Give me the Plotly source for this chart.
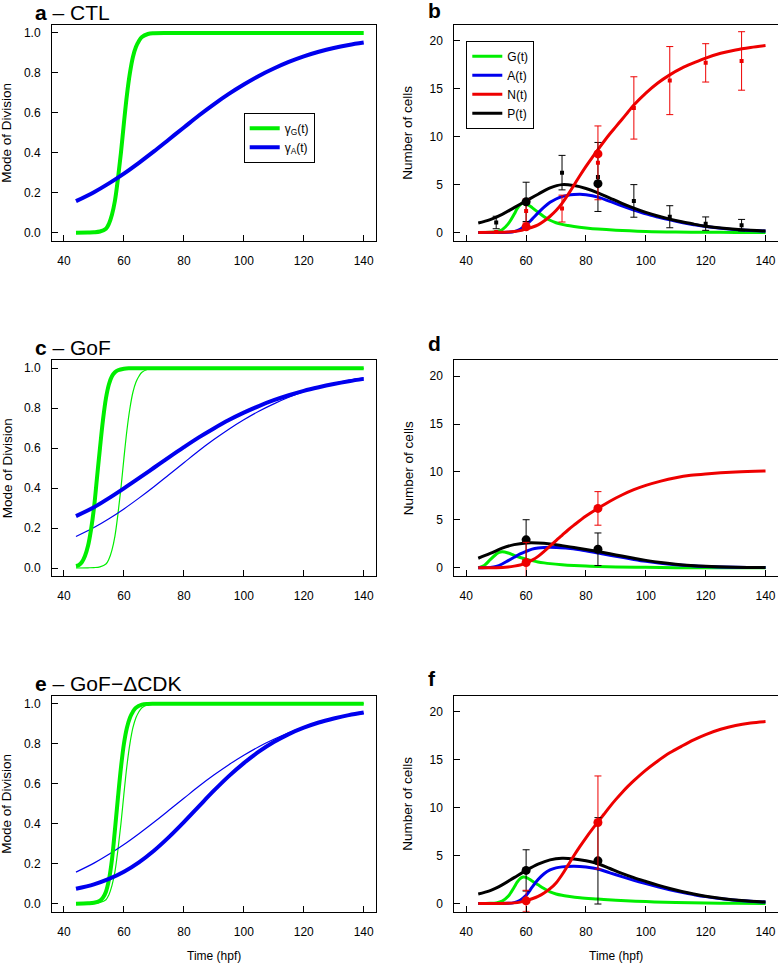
import plotly.graph_objects as go

# ---------------- DATA ----------------
# Mode of division, control (CTL)
t_gG_ctl = [44, 48, 50, 52, 54, 55, 56, 57, 58, 59, 60, 61, 62, 63, 64, 65, 66, 68, 70, 75, 80, 90, 100, 110, 120, 130, 140]
gG_ctl = [0.0, 0.001, 0.002, 0.006, 0.02, 0.045, 0.09, 0.16, 0.27, 0.4, 0.55, 0.69, 0.8, 0.88, 0.93, 0.96, 0.98, 0.995, 0.999, 1.0, 1.0, 1.0, 1.0, 1.0, 1.0, 1.0, 1.0]
t_gA = [44, 50, 55, 60, 65, 70, 75, 80, 85, 90, 95, 100, 105, 110, 115, 120, 125, 130, 135, 140]
gA_ctl = [0.158, 0.203, 0.247, 0.296, 0.350, 0.407, 0.467, 0.527, 0.587, 0.643, 0.695, 0.742, 0.785, 0.822, 0.855, 0.883, 0.906, 0.925, 0.940, 0.952]

# GoF
t_gG_gof = [44, 45, 46, 47, 48, 49, 50, 51, 52, 53, 54, 55, 56, 57, 58, 60, 62, 66, 70, 80, 90, 100, 110, 120, 130, 140]
gG_gof = [0.01, 0.015, 0.03, 0.06, 0.11, 0.19, 0.3, 0.45, 0.6, 0.74, 0.85, 0.92, 0.96, 0.98, 0.99, 0.998, 1.0, 1.0, 1.0, 1.0, 1.0, 1.0, 1.0, 1.0, 1.0, 1.0]
gA_gof = [0.26, 0.304, 0.35, 0.399, 0.45, 0.502, 0.554, 0.605, 0.654, 0.699, 0.741, 0.778, 0.811, 0.84, 0.865, 0.887, 0.905, 0.921, 0.935, 0.947]

# GoF-dCDK
t_gG_cdk = [44, 48, 50, 52, 53, 54, 55, 56, 57, 58, 59, 60, 61, 62, 63, 64, 66, 68, 70, 80, 90, 100, 110, 120, 130, 140]
gG_cdk = [0.0, 0.002, 0.005, 0.015, 0.03, 0.06, 0.12, 0.22, 0.37, 0.53, 0.68, 0.8, 0.88, 0.93, 0.96, 0.98, 0.995, 0.999, 1.0, 1.0, 1.0, 1.0, 1.0, 1.0, 1.0, 1.0]
gA_cdk = [0.075, 0.097, 0.124, 0.16, 0.207, 0.265, 0.333, 0.408, 0.487, 0.565, 0.638, 0.703, 0.76, 0.808, 0.848, 0.88, 0.906, 0.926, 0.943, 0.956]

# Number of cells, CTL
t_G = [44, 48, 50, 52, 54, 56, 57, 58, 59, 60, 61, 62, 64, 66, 68, 70, 72, 74, 76, 80, 84, 90, 100, 110, 120, 130, 140]
G_ctl = [0.0, 0.02, 0.08, 0.3, 0.9, 1.9, 2.5, 2.9, 3.05, 3.0, 2.82, 2.6, 2.12, 1.66, 1.28, 1.02, 0.85, 0.73, 0.63, 0.48, 0.36, 0.24, 0.12, 0.06, 0.03, 0.015, 0.01]
t_A = [44, 52, 54, 56, 58, 60, 62, 64, 66, 68, 70, 72, 74, 76, 78, 80, 84, 88, 92, 96, 100, 104, 108, 112, 116, 120, 126, 132, 140]
A_ctl = [0.0, 0.0, 0.02, 0.1, 0.35, 0.8, 1.4, 2.05, 2.65, 3.15, 3.5, 3.75, 3.9, 3.97, 4.0, 3.95, 3.7, 3.25, 2.78, 2.35, 1.95, 1.62, 1.32, 1.05, 0.82, 0.62, 0.41, 0.27, 0.15]
t_N = [44, 50, 54, 56, 58, 60, 62, 64, 66, 68, 70, 72, 74, 76, 78, 80, 82, 84, 86, 88, 90, 92, 94, 96, 100, 104, 108, 112, 116, 120, 125, 130, 135, 140]
N_ctl = [0.0, 0.02, 0.05, 0.1, 0.2, 0.38, 0.55, 0.8, 1.2, 1.7, 2.3, 3.05, 3.95, 4.95, 5.95, 6.9, 7.8, 8.65, 9.5, 10.3, 11.05, 11.8, 12.55, 13.3, 14.55, 15.6, 16.45, 17.15, 17.7, 18.2, 18.7, 19.05, 19.3, 19.5]
t_P = [44, 48, 52, 56, 60, 64, 68, 72, 76, 80, 84, 88, 92, 96, 100, 104, 108, 112, 116, 120, 126, 132, 140]
P_ctl = [1.0, 1.35, 1.9, 2.6, 3.3, 4.0, 4.65, 5.0, 4.9, 4.6, 4.15, 3.6, 3.05, 2.55, 2.1, 1.72, 1.4, 1.12, 0.88, 0.66, 0.44, 0.29, 0.16]

# Number of cells, GoF
t_G_gof = [44, 46, 48, 50, 51, 52, 54, 56, 58, 60, 62, 64, 66, 68, 72, 76, 80, 84, 90, 100, 110, 120, 130, 140]
G_gof = [0.0, 0.25, 0.85, 1.42, 1.62, 1.68, 1.55, 1.3, 1.08, 0.9, 0.75, 0.62, 0.52, 0.44, 0.33, 0.25, 0.19, 0.14, 0.09, 0.05, 0.02, 0.01, 0.005, 0.0]
t_A_gof = [44, 48, 50, 52, 54, 56, 58, 60, 62, 64, 66, 68, 70, 74, 78, 84, 88, 92, 96, 100, 105, 110, 115, 120, 130, 140]
A_gof = [0.0, 0.05, 0.15, 0.4, 0.75, 1.1, 1.45, 1.72, 1.95, 2.07, 2.13, 2.15, 2.13, 2.05, 1.88, 1.55, 1.32, 1.1, 0.88, 0.68, 0.48, 0.33, 0.22, 0.14, 0.06, 0.03]
t_N_gof = [44, 50, 54, 56, 58, 60, 62, 64, 66, 68, 70, 72, 74, 76, 80, 84, 88, 92, 96, 100, 105, 110, 115, 120, 130, 140]
N_gof = [0.0, 0.02, 0.1, 0.18, 0.3, 0.5, 0.8, 1.2, 1.72, 2.28, 2.85, 3.4, 3.95, 4.45, 5.4, 6.2, 6.95, 7.6, 8.15, 8.6, 9.05, 9.4, 9.65, 9.8, 10.0, 10.1]
t_P_gof = [44, 48, 52, 56, 60, 64, 68, 72, 76, 80, 84, 88, 92, 96, 100, 105, 110, 115, 120, 130, 140]
P_gof = [1.0, 1.5, 2.05, 2.42, 2.6, 2.6, 2.5, 2.32, 2.12, 1.92, 1.7, 1.47, 1.23, 1.0, 0.78, 0.55, 0.38, 0.25, 0.16, 0.07, 0.03]

# Number of cells, GoF-dCDK
t_G_cdk = [44, 48, 50, 52, 54, 56, 57, 58, 59, 60, 62, 64, 66, 68, 70, 72, 74, 78, 84, 90, 100, 110, 120, 130, 140]
G_cdk = [0.0, 0.02, 0.07, 0.25, 0.75, 1.7, 2.22, 2.6, 2.76, 2.72, 2.35, 1.95, 1.56, 1.22, 1.0, 0.86, 0.76, 0.6, 0.47, 0.35, 0.2, 0.1, 0.05, 0.02, 0.01]
t_A_cdk = [44, 54, 56, 58, 60, 62, 64, 66, 68, 70, 72, 76, 80, 84, 88, 92, 96, 100, 104, 108, 112, 116, 120, 126, 132, 140]
A_cdk = [0.0, 0.02, 0.1, 0.35, 0.85, 1.7, 2.5, 3.1, 3.5, 3.72, 3.82, 3.88, 3.8, 3.6, 3.2, 2.8, 2.42, 2.07, 1.74, 1.44, 1.17, 0.93, 0.72, 0.48, 0.3, 0.15]
t_N_cdk = [44, 50, 54, 56, 58, 60, 62, 64, 66, 68, 70, 72, 74, 76, 78, 80, 82, 84, 86, 88, 90, 92, 94, 96, 100, 104, 108, 112, 116, 120, 125, 130, 135, 140]
N_cdk = [0.0, 0.01, 0.03, 0.07, 0.15, 0.3, 0.5, 0.75, 1.1, 1.55, 2.15, 3.0, 4.0, 5.0, 5.95, 6.85, 7.7, 8.5, 9.3, 10.1, 10.85, 11.55, 12.2, 12.8, 13.9, 14.85, 15.7, 16.4, 17.05, 17.6, 18.15, 18.55, 18.8, 18.95]
t_P_cdk = [44, 48, 52, 56, 60, 64, 68, 72, 76, 80, 84, 88, 92, 96, 100, 104, 108, 112, 116, 120, 126, 132, 140]
P_cdk = [1.0, 1.35, 1.95, 2.7, 3.45, 4.1, 4.55, 4.72, 4.65, 4.45, 4.15, 3.65, 3.15, 2.7, 2.3, 1.92, 1.57, 1.26, 0.99, 0.76, 0.5, 0.32, 0.16]

# Measured data (CTL time series, small squares with error bars)
t_obs = [50, 60, 72, 84, 96, 108, 120, 132]
P_obs = [1.05, 3.2, 6.25, 5.8, 3.3, 1.65, 0.93, 0.77]
P_obs_err = [0.65, 2.05, 1.8, 3.6, 1.7, 1.15, 0.7, 0.6]
N_obs = [0.05, 2.25, 2.5, 7.27, 13.0, 15.85, 17.7, 17.9]
N_obs_err = [0.0, 1.25, 1.4, 3.85, 3.25, 3.55, 2.0, 3.05]

# Key time points (large dots)
t_key = [60, 84]
P_key_ctl = [3.2, 5.1]
N_key_ctl = [0.6, 8.2]
P_key_gof = [2.92, 1.94]
P_key_gof_err = [2.1, 1.7]
N_key_gof = [0.56, 6.2]
N_key_gof_err = [2.1, 1.75]
P_key_cdk = [3.45, 4.45]
P_key_cdk_err = [2.15, 4.5]
N_key_cdk = [0.28, 8.44]
N_key_cdk_err = [1.1, 4.85]

GREEN = "#00EE00"
BLUE = "#0000EE"
RED = "#EE0000"
BLACK = "#000000"

W, H = 778, 965
FONT = "Liberation Sans, Arial, sans-serif"

fig = go.Figure()

def line(ax, x, y, color, width, name=None, legend=None, rank=None):
    fig.add_trace(go.Scatter(
        x=x, y=y, mode="lines", line=dict(color=color, width=width, shape="spline", smoothing=1.0),
        xaxis="x" + ax, yaxis="y" + ax, name=name or "trace",
        showlegend=name is not None, legend=legend, legendrank=rank or 1000,
        hoverinfo="skip"))

def pts(ax, x, y, err, color, size, symbol):
    fig.add_trace(go.Scatter(
        x=x, y=y, mode="markers", marker=dict(color=color, size=size, symbol=symbol),
        error_y=dict(type="data", array=err if err is not None else [0] * len(x),
                     visible=err is not None, color=color, thickness=1, width=3.5),
        xaxis="x" + ax, yaxis="y" + ax, showlegend=False, hoverinfo="skip"))

# Panel a
line("", t_gG_ctl, gG_ctl, GREEN, 4, "γ<sub>G</sub>(t)", "legend", 1)
line("", t_gA, gA_ctl, BLUE, 4, "γ<sub>A</sub>(t)", "legend", 2)

# Panel b
line("2", t_G, G_ctl, GREEN, 3, "G(t)", "legend2", 1)
line("2", t_A, A_ctl, BLUE, 3, "A(t)", "legend2", 2)
line("2", t_P, P_ctl, BLACK, 3, "P(t)", "legend2", 4)
line("2", t_N, N_ctl, RED, 3, "N(t)", "legend2", 3)
pts("2", t_obs, P_obs, P_obs_err, BLACK, 4, "square")
pts("2", t_obs, N_obs, N_obs_err, RED, 4, "square")
pts("2", t_key, P_key_ctl, None, BLACK, 9, "circle")
pts("2", t_key, N_key_ctl, None, RED, 9, "circle")

# Panel c
line("3", t_gG_ctl, gG_ctl, GREEN, 1.2)
line("3", t_gA, gA_ctl, BLUE, 1.2)
line("3", t_gG_gof, gG_gof, GREEN, 4)
line("3", t_gA, gA_gof, BLUE, 4)

# Panel d
line("4", t_G_gof, G_gof, GREEN, 3)
line("4", t_A_gof, A_gof, BLUE, 3)
line("4", t_P_gof, P_gof, BLACK, 3)
line("4", t_N_gof, N_gof, RED, 3)
pts("4", t_key, P_key_gof, P_key_gof_err, BLACK, 9, "circle")
pts("4", t_key, N_key_gof, N_key_gof_err, RED, 9, "circle")

# Panel e
line("5", t_gG_ctl, gG_ctl, GREEN, 1.2)
line("5", t_gA, gA_ctl, BLUE, 1.2)
line("5", t_gG_cdk, gG_cdk, GREEN, 4)
line("5", t_gA, gA_cdk, BLUE, 4)

# Panel f
line("6", t_G_cdk, G_cdk, GREEN, 3)
line("6", t_A_cdk, A_cdk, BLUE, 3)
line("6", t_P_cdk, P_cdk, BLACK, 3)
line("6", t_N_cdk, N_cdk, RED, 3)
pts("6", t_key, P_key_cdk, P_key_cdk_err, BLACK, 9, "circle")
pts("6", t_key, N_key_cdk, N_key_cdk_err, RED, 9, "circle")

# ---------------- LAYOUT ----------------
def px_x(a, b):
    return [a / W, b / W]

def px_y(top, bottom):
    return [1 - bottom / H, 1 - top / H]

left_dom = px_x(52, 375.7)
right_dom = px_x(454.3, 777.5)
rows = [(25, 240.7), (360.3, 576), (695.7, 911.7)]

axcommon = dict(showline=True, mirror=True, linecolor="black", linewidth=1,
                ticks="inside", ticklen=6, tickwidth=1, tickcolor="black",
                showgrid=False, zeroline=False, tickfont=dict(family=FONT, size=12, color="black"))

layout = dict(width=W, height=H, margin=dict(l=0, r=0, t=0, b=0),
              plot_bgcolor="white", paper_bgcolor="white",
              font=dict(family=FONT, color="black"))

names = ["", "2", "3", "4", "5", "6"]
for i, n in enumerate(names):
    r = i // 2
    is_left = (i % 2 == 0)
    xa = dict(axcommon, domain=left_dom if is_left else right_dom, range=[36, 144],
              tickvals=[40, 60, 80, 100, 120, 140], anchor="y" + n, ticklabelstandoff=9)
    if is_left:
        ya = dict(axcommon, domain=px_y(*rows[r]), range=[-0.04, 1.04],
                  tickvals=[0, 0.2, 0.4, 0.6, 0.8, 1.0], tickformat=".1f", anchor="x" + n,
                  ticklabelstandoff=8)
    else:
        ya = dict(axcommon, domain=px_y(*rows[r]), range=[-0.85, 21.65],
                  tickvals=[0, 5, 10, 15, 20], anchor="x" + n, ticklabelstandoff=8)
    layout["xaxis" + n] = xa
    layout["yaxis" + n] = ya

layout["legend"] = dict(x=243.7 / W, y=1 - 112.7 / H, xanchor="left", yanchor="top",
                        bordercolor="black", borderwidth=1, bgcolor="white",
                        font=dict(family=FONT, size=12, color="black"), itemwidth=30)
layout["legend2"] = dict(x=466.3 / W, y=1 - 40.7 / H, xanchor="left", yanchor="top",
                         bordercolor="black", borderwidth=1, bgcolor="white",
                         font=dict(family=FONT, size=12, color="black"), itemwidth=30)

ann = []
def text(s, x, y, size, xanchor="left", angle=0):
    ann.append(dict(text=s, x=x / W, y=1 - y / H, xref="paper", yref="paper",
                    xanchor=xanchor, yanchor="middle", showarrow=False, textangle=angle,
                    font=dict(family=FONT, size=size, color="black")))

text("<b>a</b> – CTL", 33, 12, 21)
text("<b>b</b>", 426, 11, 21)
text("<b>c</b> – GoF", 33, 347, 21)
text("<b>d</b>", 426, 343, 21)
text("<b>e</b> – GoF−ΔCDK", 33, 683, 21)
text("<b>f</b>", 426, 678, 21)
for r in rows:
    cy = (r[0] + r[1]) / 2
    text("Mode of Division", 7, cy, 13.5, "center", -90)
    text("Number of cells", 408, cy, 13.5, "center", -90)
text("Time (hpf)", (52 + 375.7) / 2, 956, 12, "center")
text("Time (hpf)", (454.3 + 777.5) / 2, 956, 12, "center")
layout["annotations"] = ann

fig.update_layout(**layout)
fig.write_html("out.html")
